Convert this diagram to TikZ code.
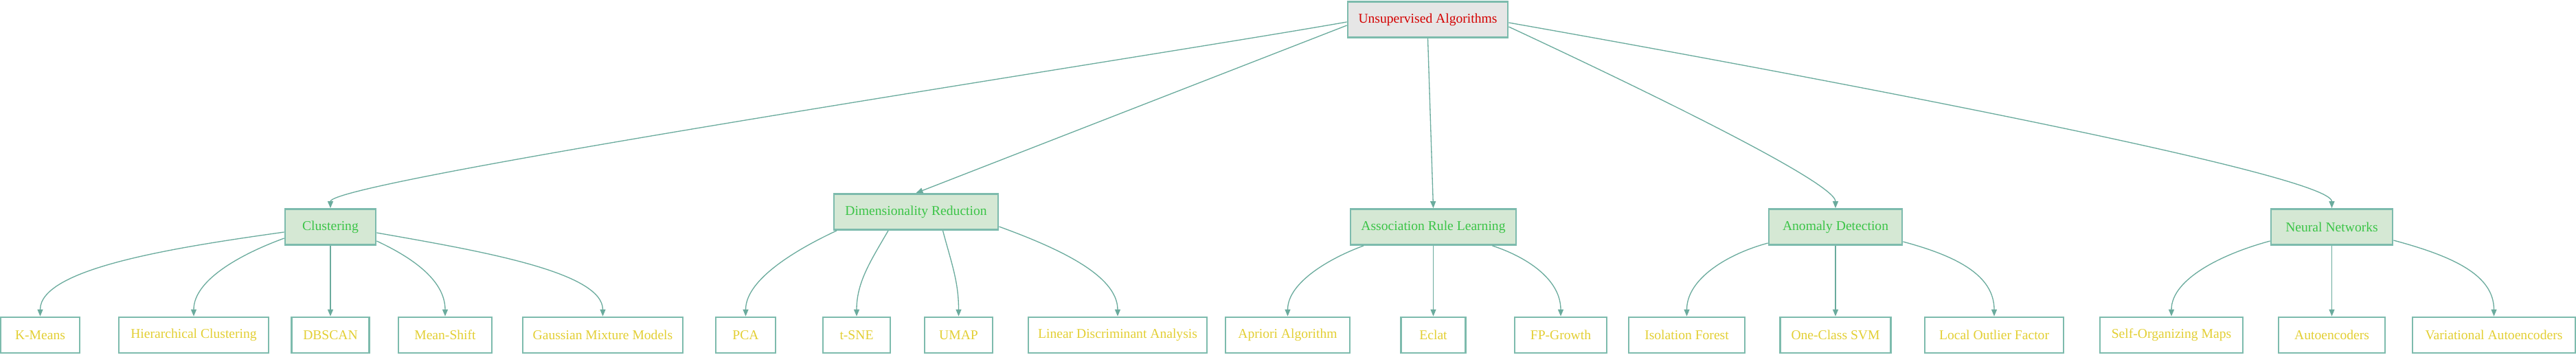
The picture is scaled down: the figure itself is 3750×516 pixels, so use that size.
\documentclass[tikz,border=0pt]{standalone}
\usepackage{fontspec}
\setmainfont{Liberation Serif}
\usetikzlibrary{arrows.meta}

\definecolor{edgeteal}{HTML}{6AAB9D}
\definecolor{boxteal}{HTML}{7DBBAD}
\definecolor{rootfill}{HTML}{E6E6E6}
\definecolor{rootred}{HTML}{D40000}
\definecolor{catfill}{HTML}{D5E8D4}
\definecolor{catgreen}{HTML}{3BC447}
\definecolor{leafgold}{HTML}{E3CF33}

\begin{document}
\begin{tikzpicture}[x=0.25pt,y=0.25pt,>={Triangle[length=2.5pt,width=2pt]},
    box/.style={draw=boxteal,line width=0.7pt,minimum height=13pt,inner xsep=3.5pt,
      font=\fontsize{4.9}{5.8}\selectfont},
    rootbox/.style={box,fill=rootfill,text=rootred},
    catbox/.style={box,fill=catfill,text=catgreen},
    algobox/.style={box,fill=white,text=leafgold},
    link/.style={->,color=edgeteal,line width=0.33pt}]
      \useasboundingbox (0,0) rectangle (3750,-516);

      \node[rootbox,minimum width=58.25pt] (unsup) at (2078.5,-28.5) {Unsupervised Algorithms};

      \node[catbox,minimum width=33pt] (clust) at (481,-330.5) {Clustering};
      \node[catbox,minimum width=59.75pt] (dimred) at (1333.5,-308.5) {Dimensionality Reduction};
      \node[catbox,minimum width=60.25pt] (assoc) at (2086.5,-330.5) {Association Rule Learning};
      \node[catbox,minimum width=48.5pt] (anom) at (2672,-330.5) {Anomaly Detection};
      \node[catbox,minimum width=44.25pt] (neural) at (3394.5,-330.5) {Neural Networks};

      \node[algobox,minimum width=28.75pt] (kmeans) at (58.5,-488) {K-Means};
      \node[algobox,minimum width=54.5pt] (hier) at (282,-488) {Hierarchical Clustering};
      \node[algobox,minimum width=28.25pt] (dbscan) at (481,-488) {DBSCAN};
      \node[algobox,minimum width=34pt] (meanshift) at (648,-488) {Mean-Shift};
      \node[algobox,minimum width=58.25pt] (gmm) at (877.5,-488) {Gaussian Mixture Models};

      \node[algobox,minimum width=21.75pt] (pca) at (1085.5,-488) {PCA};
      \node[algobox,minimum width=24.5pt] (tsne) at (1247,-488) {t-SNE};
      \node[algobox,minimum width=24.75pt] (umap) at (1395.5,-488) {UMAP};
      \node[algobox,minimum width=64.5pt] (lda) at (1627,-488) {Linear Discriminant Analysis};

      \node[algobox,minimum width=45.25pt] (apriori) at (1874.5,-488) {Apriori Algorithm};
      \node[algobox,minimum width=23.5pt] (eclat) at (2086.5,-488) {Eclat};
      \node[algobox,minimum width=33.5pt] (fpgrowth) at (2272,-488) {FP-Growth};

      \node[algobox,minimum width=42.25pt] (iforest) at (2455.5,-488) {Isolation Forest};
      \node[algobox,minimum width=40.25pt] (ocsvm) at (2672,-488) {One-Class SVM};
      \node[algobox,minimum width=50.5pt] (lof) at (2903,-488) {Local Outlier Factor};

      \node[algobox,minimum width=52pt] (som) at (3161,-488) {Self-Organizing Maps};
      \node[algobox,minimum width=38.75pt] (autoenc) at (3394.5,-488) {Autoencoders};
      \node[algobox,minimum width=59.25pt] (vae) at (3630.5,-488) {Variational Autoencoders};

      \path[link]
      ([yshift=-0.875pt]unsup.west) edge [out=190,in=90,out distance=75pt,in distance=10pt] (clust.north)
      ([yshift=-2.125pt]unsup.west) edge (dimred.north)
      (unsup.south) edge (assoc.north)
      ([yshift=-2.625pt]unsup.east) edge [out=-25,in=90,out distance=37.5pt,in distance=10pt] (anom.north)
      ([yshift=-1.125pt]unsup.east) edge [out=-10,in=90,out distance=100pt,in distance=12.5pt] (neural.north)

      ([yshift=-1.875pt]clust.west) edge [out=188,in=90,out distance=40pt,in distance=17.5pt] (kmeans.north)
      ([yshift=-4.125pt]clust.west) edge [out=200,in=90,out distance=15pt,in distance=13.75pt] (hier.north)
      (clust.south) edge (dbscan.north)
      ([yshift=-5.125pt]clust.east) edge [out=-25,in=90,out distance=12.5pt,in distance=13.75pt] (meanshift.north)
      ([yshift=-2.125pt]clust.east) edge [out=-10,in=90,out distance=37.5pt,in distance=16.25pt] (gmm.north)

      ([xshift=-28.875pt]dimred.south) edge [out=205,in=90,out distance=15pt,in distance=13.75pt] (pca.north)
      ([xshift=-10.125pt]dimred.south) edge [out=240,in=90,out distance=12.5pt,in distance=12.5pt] (tsne.north)
      ([xshift=9.75pt]dimred.south) edge [out=-75,in=90,out distance=12.5pt,in distance=12.5pt] (umap.north)
      ([yshift=-5.375pt]dimred.east) edge [out=-20,in=90,out distance=22.5pt,in distance=15pt] (lda.north)

      ([xshift=-25.375pt]assoc.south) edge [out=200,in=90,out distance=12.5pt,in distance=12.5pt] (apriori.north)
      (assoc.south) edge (eclat.north)
      ([xshift=21.5pt]assoc.south) edge [out=-18,in=90,out distance=12.5pt,in distance=13.75pt] (fpgrowth.north)

      ([yshift=-5.875pt]anom.west) edge [out=195,in=90,out distance=15pt,in distance=13.75pt] (iforest.north)
      (anom.south) edge (ocsvm.north)
      ([yshift=-5.375pt]anom.east) edge [out=-15,in=90,out distance=20pt,in distance=15pt] (lof.north)

      ([yshift=-5.125pt]neural.west) edge [out=195,in=90,out distance=17.5pt,in distance=13.75pt] (som.north)
      (neural.south) edge (autoenc.north)
      ([yshift=-4.875pt]neural.east) edge [out=-15,in=90,out distance=22.5pt,in distance=15pt] (vae.north)
      ;
    \end{tikzpicture}
\end{document}
